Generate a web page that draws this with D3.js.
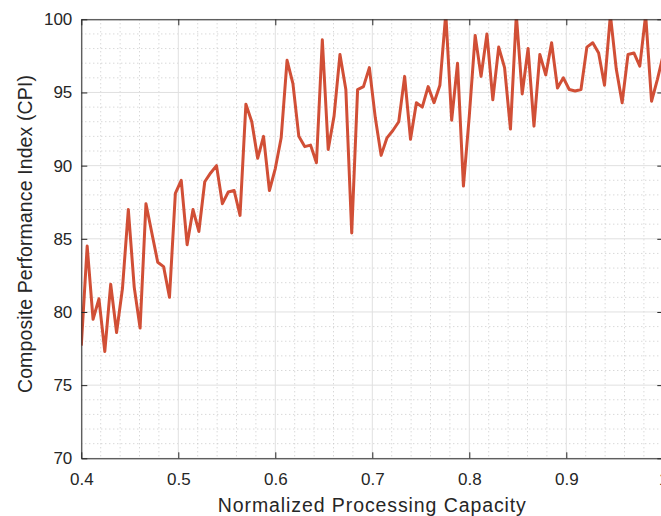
<!DOCTYPE html>
<html>
<head>
<meta charset="utf-8">
<script src="https://cdn.jsdelivr.net/npm/d3@7"></script>
<style>
html,body{margin:0;padding:0;background:#fff;overflow:hidden;}
svg{display:block;}
text{font-family:"Liberation Sans",Arial,Helvetica,sans-serif;fill:#262626;}
</style>
</head>
<body>
<div id="chart"></div>
<script>
const xStart = 0.4, xEnd = 1.0, nPoints = 100;
const cpiValues = [
 77.7, 84.5, 79.5, 80.9, 77.3, 81.9, 78.6, 81.6, 87.0, 81.7,
 78.9, 87.4, 85.4, 83.4, 83.1, 81.0, 88.1, 89.0, 84.6, 87.0,
 85.5, 88.9, 89.5, 90.0, 87.4, 88.2, 88.3, 86.6, 94.2, 93.0,
 90.5, 92.0, 88.3, 89.8, 91.9, 97.2, 95.6, 92.0, 91.3, 91.4,
 90.2, 98.6, 91.1, 93.4, 97.6, 95.2, 85.4, 95.2, 95.4, 96.7,
 93.3, 90.7, 91.9, 92.4, 93.0, 96.1, 91.8, 94.3, 94.0, 95.4,
 94.3, 95.5, 100.4, 93.1, 97.0, 88.6, 93.4, 98.9, 96.1, 99.0,
 94.5, 98.1, 96.7, 92.5, 100.3, 94.9, 98.0, 92.7, 97.6, 96.2,
 98.4, 95.3, 96.0, 95.2, 95.1, 95.2, 98.1, 98.4, 97.7, 95.5,
 100.3, 96.6, 94.3, 97.6, 97.7, 96.8, 100.3, 94.4, 95.9, 97.6
];
const xTickValues = [0.4, 0.5, 0.6, 0.7, 0.8, 0.9, 1.0];
const xTickLabels = ["0.4", "0.5", "0.6", "0.7", "0.8", "0.9", "1"];
const yTickValues = [70, 75, 80, 85, 90, 95, 100];
const yTickLabels = ["70", "75", "80", "85", "90", "95", "100"];
const xLabel = "Normalized Processing Capacity";
const yLabel = "Composite Performance Index (CPI)";

const data = cpiValues.map((v, i) => ({x: xStart + (xEnd - xStart) * i / (nPoints - 1), y: v}));

const W = 661, H = 516;
const m = {left: 81.3, right: 663.3, top: 19.3, bottom: 458.3};

const svg = d3.select("#chart").append("svg").attr("width", W).attr("height", H);

const x = d3.scaleLinear().domain([xStart, xEnd]).range([m.left, m.right]);
const y = d3.scaleLinear().domain([70, 100]).range([m.bottom, m.top]);

svg.append("defs").append("clipPath").attr("id", "clip")
  .append("rect").attr("x", m.left).attr("y", m.top)
  .attr("width", m.right - m.left).attr("height", m.bottom - m.top);

// minor grid
const xMinor = d3.range(0, 31).map(i => 0.4 + i * 0.02).filter(v => !xTickValues.some(t => Math.abs(t - v) < 1e-6));
const yMinor = d3.range(70, 101).filter(v => !yTickValues.includes(v));
const g = svg.append("g");
g.selectAll(".mx").data(xMinor).enter().append("line")
  .attr("x1", d => x(d)).attr("x2", d => x(d)).attr("y1", m.top).attr("y2", m.bottom)
  .attr("stroke", "#c8c8c8").attr("stroke-width", 1).attr("stroke-dasharray", "1,3");
g.selectAll(".my").data(yMinor).enter().append("line")
  .attr("x1", m.left).attr("x2", m.right).attr("y1", d => y(d)).attr("y2", d => y(d))
  .attr("stroke", "#c8c8c8").attr("stroke-width", 1).attr("stroke-dasharray", "1,3");
// major grid
g.selectAll(".gx").data(xTickValues).enter().append("line")
  .attr("x1", d => x(d)).attr("x2", d => x(d)).attr("y1", m.top).attr("y2", m.bottom)
  .attr("stroke", "#e0e0e0").attr("stroke-width", 1);
g.selectAll(".gy").data(yTickValues).enter().append("line")
  .attr("x1", m.left).attr("x2", m.right).attr("y1", d => y(d)).attr("y2", d => y(d))
  .attr("stroke", "#e0e0e0").attr("stroke-width", 1);

// data line
const line = d3.line().x(d => x(d.x)).y(d => y(d.y));
svg.append("path").datum(data)
  .attr("clip-path", "url(#clip)")
  .attr("d", line).attr("fill", "none")
  .attr("stroke", "#d14f36").attr("stroke-width", 3)
  .attr("stroke-linejoin", "round");

// axes (box, inward ticks)
const tickLen = 6;
const axStroke = "#262626";
const bottomAxis = d3.axisBottom(x).tickValues(xTickValues).tickSizeInner(-tickLen).tickSizeOuter(0)
  .tickPadding(15).tickFormat((d, i) => xTickLabels[i]);
const topAxis = d3.axisTop(x).tickValues(xTickValues).tickSizeInner(-tickLen).tickSizeOuter(0).tickFormat("");
const leftAxis = d3.axisLeft(y).tickValues(yTickValues).tickSizeInner(-tickLen).tickSizeOuter(0)
  .tickPadding(9).tickFormat((d, i) => yTickLabels[i]);
const rightAxis = d3.axisRight(y).tickValues(yTickValues).tickSizeInner(-tickLen).tickSizeOuter(0).tickFormat("");

function styleAxis(sel) {
  sel.selectAll("path").attr("stroke", axStroke).attr("stroke-width", 1);
  sel.selectAll("line").attr("stroke", axStroke).attr("stroke-width", 1);
  sel.selectAll("text").attr("fill", "#262626").style("font-size", "17px")
    .style("font-family", "'Liberation Sans', Arial, Helvetica, sans-serif");
}
svg.append("g").attr("transform", `translate(0,${m.bottom})`).call(bottomAxis).call(styleAxis);
svg.append("g").attr("transform", `translate(0,${m.top})`).call(topAxis).call(styleAxis);
svg.append("g").attr("transform", `translate(${m.left},0)`).call(leftAxis).call(styleAxis);
svg.append("g").attr("transform", `translate(${m.right},0)`).call(rightAxis).call(styleAxis);

// axis titles
function fitSpacing(t, target) {
  const n = t.text().length;
  const len = t.node().getComputedTextLength();
  t.style("letter-spacing", ((target - len) / (n - 1)) + "px");
}
const xt = svg.append("text").attr("x", (m.left + m.right) / 2).attr("y", 511.7)
  .attr("text-anchor", "middle").style("font-size", "19.5px").text(xLabel);
fitSpacing(xt, 308);
const yt = svg.append("text").attr("transform", `translate(31.5,234) rotate(-90)`)
  .attr("text-anchor", "middle").style("font-size", "19.5px").text(yLabel);
fitSpacing(yt, 318);
</script>
</body>
</html>
